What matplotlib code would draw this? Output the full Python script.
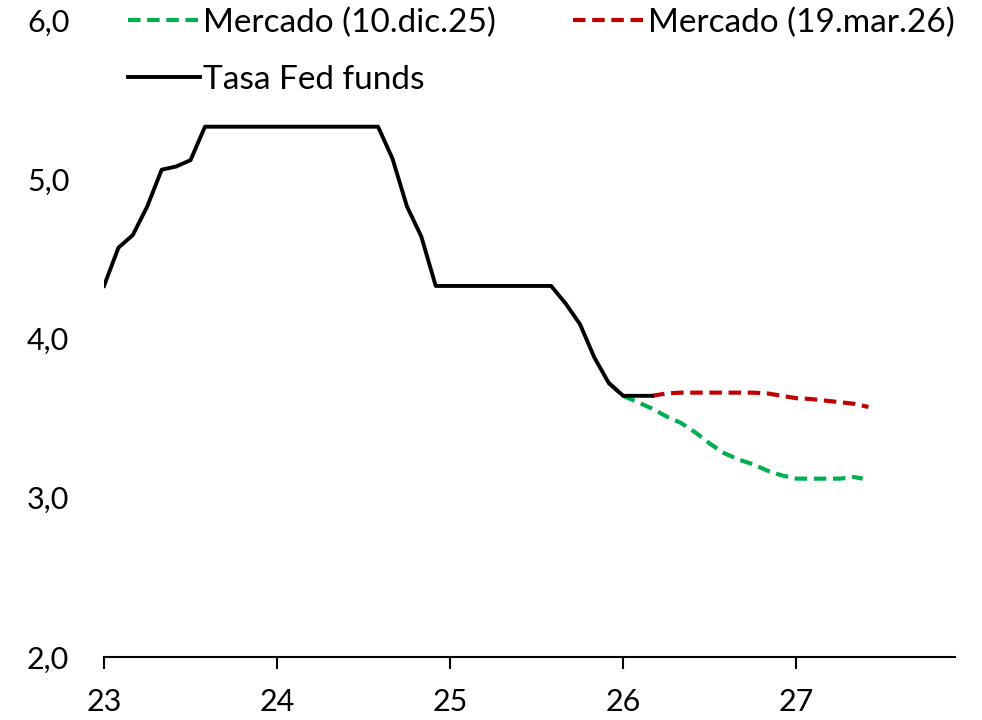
import numpy as np
import matplotlib
matplotlib.use("Agg")
import matplotlib.pyplot as plt

plt.rcParams['font.family'] = ['Lato', 'DejaVu Sans']

# months counted from Jan 2023 (0 = ene.23)
fed_months = list(range(0, 39))
fed_rate = [4.33, 4.57, 4.65, 4.83, 5.06, 5.08, 5.12,
            5.33, 5.33, 5.33, 5.33, 5.33, 5.33, 5.33, 5.33, 5.33, 5.33, 5.33, 5.33, 5.33,
            5.13, 4.83, 4.64,
            4.33, 4.33, 4.33, 4.33, 4.33, 4.33, 4.33, 4.33, 4.33,
            4.22, 4.09, 3.88, 3.72,
            3.64, 3.64, 3.64]

dic_months = [35, 36, 37, 38, 39, 40, 41, 42, 43, 44, 45, 46, 47, 48, 49, 50, 51, 52, 52.6]
dic_rate = [3.72, 3.64, 3.60, 3.56, 3.51, 3.47, 3.41, 3.34, 3.28, 3.24, 3.21, 3.17,
            3.14, 3.12, 3.12, 3.12, 3.12, 3.13, 3.12]

mar_months = [38, 39, 40, 41, 42, 43, 44, 45, 46, 47, 48, 49, 50, 51, 52, 53]
mar_rate = [3.64, 3.655, 3.66, 3.66, 3.66, 3.66, 3.66, 3.66, 3.655, 3.64, 3.625,
            3.62, 3.61, 3.60, 3.59, 3.57]

year_ticks = [0, 12, 24, 36, 48]
year_labels = ['23', '24', '25', '26', '27']
y_ticks = [2, 3, 4, 5, 6]
y_labels = ['2,0', '3,0', '4,0', '5,0', '6,0']

fig = plt.figure(figsize=(9.82, 7.2), dpi=100)
ax = fig.add_axes([104/982, 1-657/720, (955-104)/982, (657-20)/720])

g, = ax.plot(dic_months, dic_rate, color='#00B050', lw=3, dashes=(3, 1.6),
             label='Mercado (10.dic.25)')
r, = ax.plot(mar_months, mar_rate, color='#C00000', lw=3, dashes=(3, 1.6),
             label='Mercado (19.mar.26)')
b, = ax.plot(fed_months, fed_rate, color='black', lw=2.8, label='Tasa Fed funds')

ax.set_xlim(0, 59)
ax.set_ylim(2, 6)
ax.set_xticks(year_ticks)
ax.set_xticklabels(year_labels)
ax.set_yticks(y_ticks)
ax.set_yticklabels(y_labels)
for s in ['top', 'right', 'left']:
    ax.spines[s].set_visible(False)
ax.spines['bottom'].set_linewidth(1.5)
ax.tick_params(axis='x', length=8.5, width=1.5, pad=14, labelsize=22)
ax.tick_params(axis='y', length=0, pad=25, labelsize=22)

ax.legend(handles=[g, b, r], ncol=2, frameon=False, fontsize=24,
          loc='upper left', bbox_to_anchor=(115/982, 1.008), bbox_transform=fig.transFigure,
          handlelength=2.15, handletextpad=0.1, columnspacing=2.3, labelspacing=0.8,
          borderaxespad=0)

fig.savefig('out.png', dpi=100)
